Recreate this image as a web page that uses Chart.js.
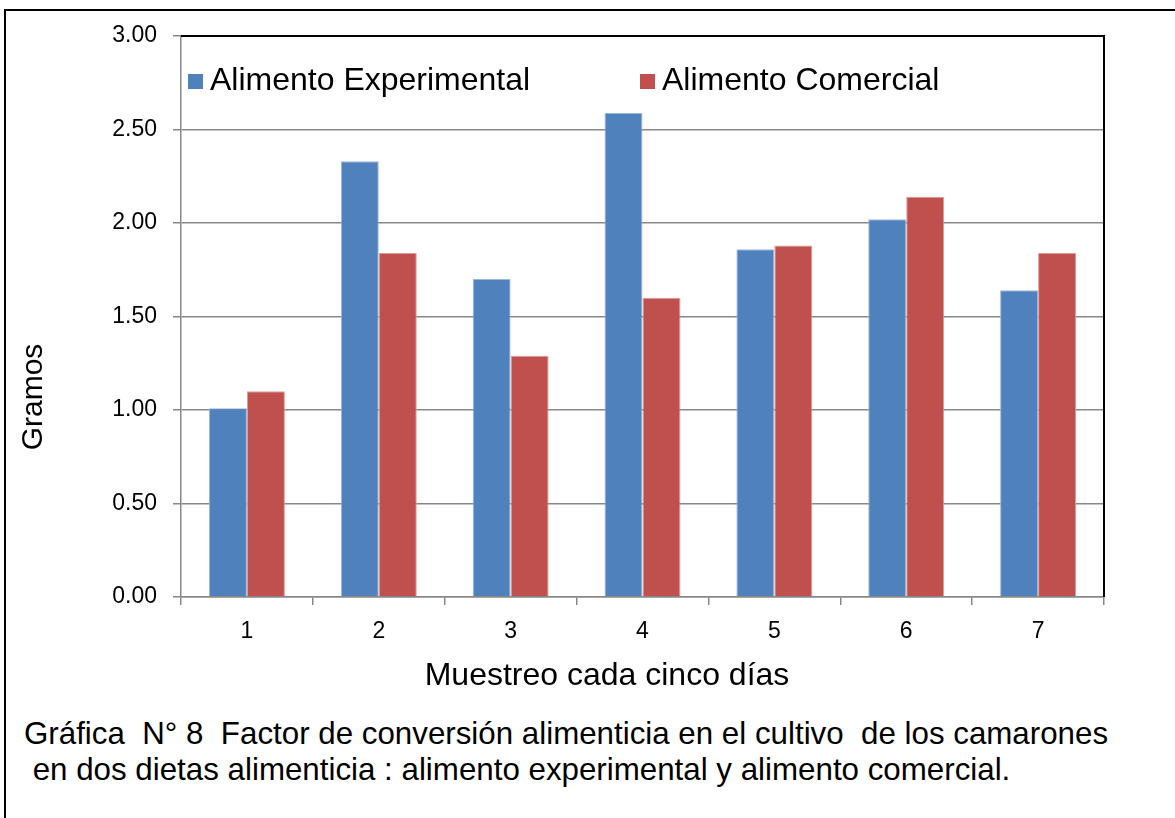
<!DOCTYPE html>
<html>
<head>
<meta charset="utf-8">
<script src="https://cdn.jsdelivr.net/npm/chart.js@4.4.0/dist/chart.umd.min.js"></script>
<style>
    body { margin: 0; background: #fff; width: 1175px; height: 818px; overflow: hidden; position: relative; font-family: "Liberation Sans", Arial, sans-serif; }
    #frame { position: absolute; left: 4px; top: 9px; width: 1300px; height: 900px; border: 2px solid #000; box-sizing: border-box; }
    #chartBox { position: absolute; left: 0; top: 0; }
    #caption { position: absolute; left: 24px; top: 716px; font-size: 31.3px; line-height: 36px; white-space: pre; color: #000; }
</style>
</head>
<body>
<div id="frame"></div>
<canvas id="chartBox" width="1175" height="700"></canvas>
<div id="caption">Gráfica  N° 8  Factor de conversión alimenticia en el cultivo  de los camarones
 en dos dietas alimenticia : alimento experimental y alimento comercial.</div>
<script>
// Chart data
const categories = ['1', '2', '3', '4', '5', '6', '7'];
const experimental = [1.01, 2.33, 1.70, 2.59, 1.86, 2.02, 1.64];
const comercial = [1.10, 1.84, 1.29, 1.60, 1.88, 2.14, 1.84];
const seriesNames = ['Alimento Experimental', 'Alimento Comercial'];
const yTitle = 'Gramos';
const xTitle = 'Muestreo cada cinco días';
const yMin = 0, yMax = 3, yStep = 0.5;

const FONT = '"Liberation Sans", Arial, sans-serif';

// Legend drawn inside the plot area, like the spreadsheet original
const insideLegend = {
    id: 'insideLegend',
    afterDraw(chart) {
        const ctx = chart.ctx;
        const area = chart.chartArea;
        const offsets = [7, 459];
        ctx.save();
        ctx.font = '32px ' + FONT;
        ctx.textBaseline = 'middle';
        chart.data.datasets.forEach((ds, i) => {
            const x = area.left + offsets[i];
            const y = area.top + 45;
            ctx.fillStyle = ds.backgroundColor;
            ctx.fillRect(x, y - 7, 15, 15);
            ctx.fillStyle = '#000';
            ctx.fillText(ds.label, x + 22, y);
        });
        ctx.restore();
    }
};

// Black top and right edges of the plot area, plus the axis titles
// (both sit off-centre in the original, so they are placed by hand)
const plotFrame = {
    id: 'plotFrame',
    afterDraw(chart) {
        const ctx = chart.ctx;
        const a = chart.chartArea;
        ctx.save();
        ctx.strokeStyle = '#000';
        ctx.lineWidth = 2;
        ctx.beginPath();
        ctx.moveTo(a.left, a.top);
        ctx.lineTo(a.right, a.top);
        ctx.lineTo(a.right, a.bottom);
        ctx.stroke();

        ctx.fillStyle = '#000';
        ctx.textAlign = 'center';
        ctx.textBaseline = 'middle';
        ctx.font = '32px ' + FONT;
        ctx.fillText(xTitle, 607, 676);

        ctx.translate(34, 397);
        ctx.rotate(-Math.PI / 2);
        ctx.font = '30px ' + FONT;
        ctx.fillText(yTitle, 0, 0);
        ctx.restore();
    }
};

const chart = new Chart(document.getElementById('chartBox').getContext('2d'), {
    type: 'bar',
    data: {
        labels: categories,
        datasets: [{
            label: seriesNames[0],
            data: experimental,
            backgroundColor: '#4F81BD',
            borderColor: '#9DB7DA',
            borderWidth: 1
        }, {
            label: seriesNames[1],
            data: comercial,
            backgroundColor: '#C0504D',
            borderColor: '#DC9C9A',
            borderWidth: 1
        }]
    },
    options: {
        responsive: false,
        animation: false,
        layout: {
            padding: { top: 36, right: 71, bottom: 5, left: 0 }
        },
        datasets: {
            bar: { categoryPercentage: 0.576, barPercentage: 1 }
        },
        plugins: {
            legend: { display: false },
            tooltip: { enabled: false }
        },
        scales: {
            x: {
                afterFit: (scale) => { scale.height = 98; },
                grid: { drawOnChartArea: false, offset: true, color: '#888', lineWidth: 1.5, tickLength: 8 },
                border: { color: '#888', width: 1.5 },
                ticks: { color: '#000', font: { family: FONT, size: 23 }, padding: 13 },
                title: { display: false }
            },
            y: {
                min: yMin,
                max: yMax,
                afterFit: (scale) => { scale.width = 181; },
                grid: { color: '#888', lineWidth: 1.5, tickLength: 8 },
                border: { color: '#888', width: 1.5 },
                ticks: {
                    stepSize: yStep,
                    color: '#000',
                    font: { family: FONT, size: 23 },
                    padding: 16,
                    callback: (v) => Number(v).toFixed(2)
                },
                title: { display: false }
            }
        }
    },
    plugins: [insideLegend, plotFrame]
});
</script>
</body>
</html>
